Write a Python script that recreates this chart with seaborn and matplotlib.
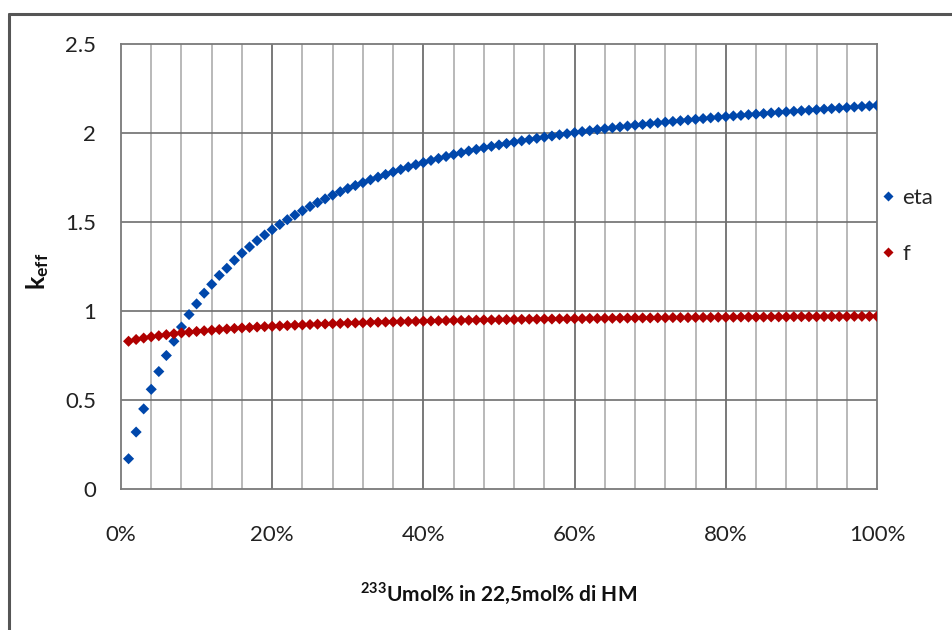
import numpy as np
import pandas as pd
import matplotlib
matplotlib.use("Agg")
import matplotlib.pyplot as plt
import seaborn as sns
from matplotlib.lines import Line2D
from matplotlib.ticker import MultipleLocator, FuncFormatter

# ============================================================================
# Data
# ============================================================================

u233_pct = list(range(1, 101))

eta = [
    0.17, 0.32, 0.45, 0.56, 0.66, 0.75, 0.83, 0.91, 0.98, 1.04,
    1.10, 1.15, 1.20, 1.24, 1.285, 1.325, 1.36, 1.395, 1.427, 1.457,
    1.486, 1.513, 1.539, 1.563, 1.587, 1.609, 1.630, 1.651, 1.670, 1.688,
    1.705, 1.721, 1.737, 1.752, 1.767, 1.781, 1.795, 1.809, 1.822, 1.834,
    1.846, 1.857, 1.868, 1.879, 1.889, 1.899, 1.908, 1.917, 1.925, 1.933,
    1.941, 1.949, 1.956, 1.963, 1.970, 1.977, 1.983, 1.990, 1.996, 2.002,
    2.008, 2.013, 2.019, 2.024, 2.029, 2.034, 2.039, 2.044, 2.048, 2.053,
    2.057, 2.061, 2.065, 2.069, 2.073, 2.077, 2.081, 2.085, 2.089, 2.092,
    2.096, 2.099, 2.103, 2.106, 2.109, 2.113, 2.116, 2.119, 2.122, 2.125,
    2.128, 2.131, 2.134, 2.137, 2.140, 2.143, 2.146, 2.149, 2.152, 2.155,
]

f = [
    0.830, 0.840, 0.848, 0.855, 0.861, 0.867, 0.872, 0.877, 0.881, 0.885,
    0.889, 0.892, 0.896, 0.899, 0.902, 0.905, 0.907, 0.910, 0.912, 0.914,
    0.916, 0.918, 0.920, 0.922, 0.924, 0.926, 0.927, 0.929, 0.930, 0.932,
    0.933, 0.934, 0.936, 0.937, 0.938, 0.939, 0.940, 0.941, 0.942, 0.943,
    0.944, 0.945, 0.946, 0.947, 0.947, 0.948, 0.949, 0.950, 0.950, 0.951,
    0.952, 0.952, 0.953, 0.954, 0.954, 0.955, 0.955, 0.956, 0.956, 0.957,
    0.957, 0.958, 0.958, 0.959, 0.959, 0.960, 0.960, 0.961, 0.961, 0.961,
    0.962, 0.962, 0.963, 0.963, 0.963, 0.964, 0.964, 0.964, 0.965, 0.965,
    0.965, 0.966, 0.966, 0.966, 0.966, 0.967, 0.967, 0.967, 0.968, 0.968,
    0.968, 0.968, 0.969, 0.969, 0.969, 0.969, 0.970, 0.970, 0.970, 0.970,
]

series_names = ["eta", "f"]
series_colors = ["#0047AB", "#B00000"]

df = pd.DataFrame({"x": u233_pct * 2,
                   "value": eta + f,
                   "series": ["eta"] * len(eta) + ["f"] * len(f)})

# ============================================================================
# Style
# ============================================================================

sns.set_theme(style="white")
plt.rcParams["font.family"] = ["Lato", "DejaVu Sans"]
plt.rcParams["mathtext.fontset"] = "custom"
plt.rcParams["mathtext.rm"] = "Lato"
plt.rcParams["mathtext.bf"] = "Lato:bold"

fig = plt.figure(figsize=(9.52, 6.3), dpi=100)
ax = fig.add_axes([121 / 952, 1 - 489 / 630, (877 - 121) / 952, (489 - 44) / 630])

sns.scatterplot(data=df, x="x", y="value", hue="series",
                hue_order=series_names, palette=series_colors,
                marker="D", s=32, edgecolor="none", ax=ax, zorder=3)

ax.set_xlim(0, 100)
ax.set_ylim(0, 2.5)

# gridlines: minor every 4 %, major every 20 %
for xv in np.arange(4, 100, 4):
    major = xv % 20 == 0
    ax.axvline(xv, color="#555555" if major else "#b3b3b3",
               lw=1.1 if major else 1.3, zorder=1)
for yv in np.arange(0.5, 2.5, 0.5):
    ax.axhline(yv, color="#6e6e6e", lw=1.2, zorder=1)

ax.xaxis.set_major_locator(MultipleLocator(20))
ax.yaxis.set_major_locator(MultipleLocator(0.5))
ax.xaxis.set_major_formatter(FuncFormatter(lambda v, p: f"{int(v)}%"))
ax.yaxis.set_major_formatter(FuncFormatter(lambda v, p: f"{v:g}"))
ax.tick_params(axis="both", length=0, labelsize=16, colors="#222222")
ax.tick_params(axis="x", pad=26)
ax.tick_params(axis="y", pad=18)

for sp in ax.spines.values():
    sp.set_color("#7a7a7a")
    sp.set_linewidth(1.3)

ax.set_xlabel(r"$^{\mathbf{233}}$Umol% in 22,5mol% di HM",
              fontsize=15, fontweight="bold", color="#111111")
ax.xaxis.set_label_coords(0.5, -0.205)
ax.set_ylabel(r"$\mathbf{k_{eff}}$", fontsize=18, color="#111111")
ax.yaxis.set_label_coords(-0.093, 0.49)

handles, labels = ax.get_legend_handles_labels()
ax.legend(handles, labels, loc="center left", frameon=False,
          bbox_to_anchor=(879 / 952, 1 - 226 / 630),
          bbox_transform=fig.transFigure, fontsize=16,
          borderpad=0, borderaxespad=0, handlelength=0.8,
          handletextpad=0.25, labelspacing=1.6, markerscale=0.85)

# outer chart border (left and top edges visible)
border_y = 1 - 14 / 630
border_x = 8.5 / 952
fig.add_artist(Line2D([border_x, border_x], [0, border_y],
                      transform=fig.transFigure, color="#555555",
                      lw=2.2, zorder=10, clip_on=False))
fig.add_artist(Line2D([border_x, 1.0], [border_y, border_y],
                      transform=fig.transFigure, color="#555555",
                      lw=2.2, zorder=10, clip_on=False))

fig.savefig("out.png", dpi=100)
